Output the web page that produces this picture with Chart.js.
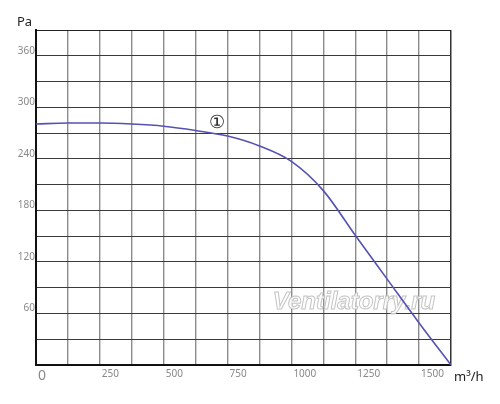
<!DOCTYPE html>
<html>
<head>
<meta charset="utf-8">
<script src="https://cdn.jsdelivr.net/npm/chart.js@4/dist/chart.umd.min.js"></script>
<style>
  html, body { margin: 0; padding: 0; background: #fff; }
  #wrap { width: 500px; height: 404px; }
</style>
</head>
<body>
<div id="wrap"><canvas id="fanChart"></canvas></div>
<script>
// Fan curve: air flow (m³/h) vs pressure (Pa)
const flow = [0, 125, 250, 375, 500, 625, 750, 875, 1000, 1125, 1250, 1375, 1500, 1625];
const pressure = [280.5, 281.7, 281.7, 280.5, 278, 273, 266.5, 255, 237, 203, 151, 100, 49, 0];
const xLabels = [0, 250, 500, 750, 1000, 1250, 1500];
const yLabels = [60, 120, 180, 240, 300, 360];

const points = flow.map((x, i) => ({ x: x, y: pressure[i] }));

// Extra texts: axis units, curve number, watermark
const textPlugin = {
  id: "texts",
  beforeDatasetsDraw(chart) {
    const ctx = chart.ctx;
    ctx.save();
    ctx.font = "italic bold 24px 'Liberation Sans'";
    ctx.textAlign = "center";
    ctx.textBaseline = "middle";
    ctx.lineWidth = 1;
    ctx.fillStyle = "rgba(255,255,255,0.85)";
    ctx.strokeStyle = "#c4c4c4";
    ctx.fillText("Ventilatorry.ru", 354, 302);
    ctx.strokeText("Ventilatorry.ru", 354, 302);
    ctx.restore();
  },
  afterDraw(chart) {
    const ctx = chart.ctx;
    const a = chart.chartArea;
    const xs = chart.scales.x;
    const ys = chart.scales.y;
    ctx.save();
    ctx.fillStyle = "#222";
    ctx.textBaseline = "middle";
    ctx.font = "13px 'Noto Sans'";
    ctx.textAlign = "left";
    ctx.fillText("Pa", 17, 22);
    ctx.fillText("m³/h", a.right + 3, 377);
    ctx.font = "18px 'DejaVu Serif'";
    ctx.textAlign = "center";
    ctx.fillText("①", xs.getPixelForValue(710), ys.getPixelForValue(281));
    ctx.restore();
  }
};

new Chart(document.getElementById("fanChart"), {
  type: "line",
  data: {
    datasets: [{
      data: points,
      borderColor: "#5552b4",
      borderWidth: 1.6,
      pointRadius: 0,
      fill: false,
      cubicInterpolationMode: "monotone"
    }]
  },
  options: {
    responsive: true,
    maintainAspectRatio: false,
    animation: false,
    layout: { padding: { left: 0, top: 30, right: 49, bottom: 0 } },
    plugins: { legend: { display: false }, tooltip: { enabled: false } },
    scales: {
      x: {
        type: "linear",
        min: 0,
        max: 1625,
        afterFit: s => { s.height = 39; },
        afterBuildTicks: s => {
          s.ticks = [];
          for (let v = 0; v <= 1625; v += 125) s.ticks.push({ value: v });
        },
        grid: {
          drawTicks: false,
          color: c => c.tick && c.tick.value === 1625 ? "#333" : "#8c8c8c",
          lineWidth: c => c.tick && c.tick.value === 1625 ? 1.5 : 1.4
        },
        border: { color: "#111", width: 2 },
        ticks: {
          maxRotation: 0,
          autoSkip: false,
          align: "start",
          labelOffset: 2,
          padding: 3,
          color: "#888",
          font: c => c.tick && c.tick.value === 0
            ? { family: "'Noto Sans'", size: 14 }
            : { family: "'Noto Sans'", size: 10 },
          callback: v => xLabels.includes(v) ? String(v) : ""
        }
      },
      y: {
        type: "linear",
        min: 0,
        max: 390,
        afterFit: s => { s.width = 36; },
        afterBuildTicks: s => {
          s.ticks = [];
          for (let v = 0; v <= 390; v += 30) s.ticks.push({ value: v });
        },
        grid: {
          drawTicks: false,
          color: c => c.tick && c.tick.value === 390 ? "#222" : "#3a3a3a",
          lineWidth: 1
        },
        border: { color: "#111", width: 2 },
        ticks: {
          autoSkip: false,
          padding: 1,
          labelOffset: -5,
          color: "#888",
          font: { family: "'Noto Sans'", size: 10 },
          callback: v => yLabels.includes(v) ? String(v) : ""
        }
      }
    }
  },
  plugins: [textPlugin]
});
</script>
</body>
</html>
